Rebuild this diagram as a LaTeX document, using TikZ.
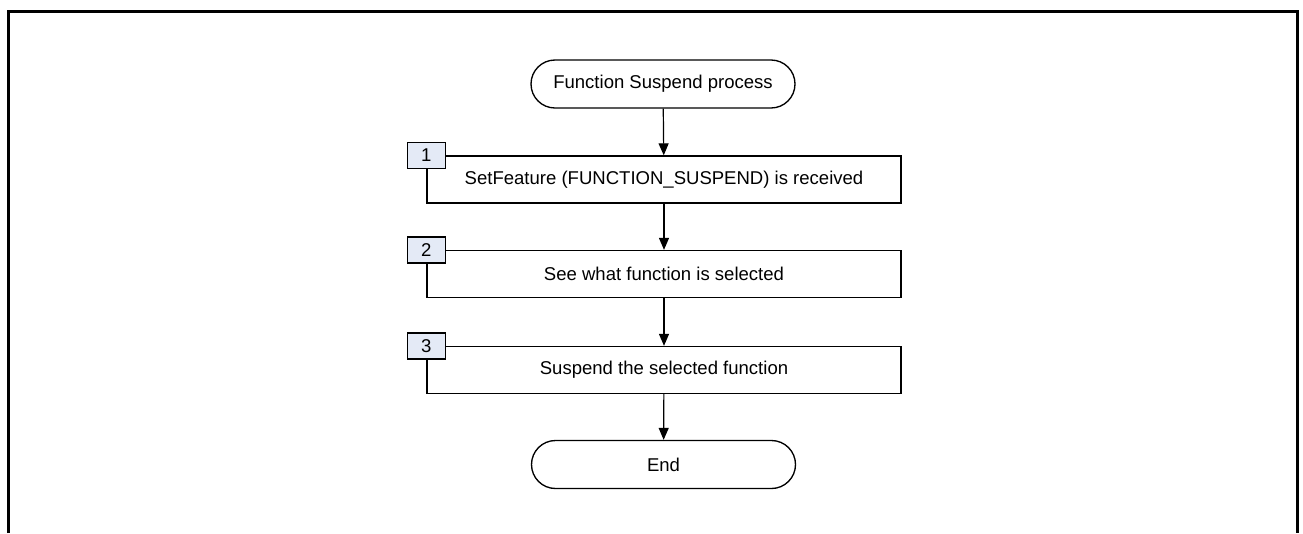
\documentclass[tikz,border=0pt]{standalone}
\usepackage{fontspec}
\setmainfont{Liberation Sans}
\usetikzlibrary{arrows.meta}
\definecolor{numfill}{RGB}{228,234,246}
\tikzset{
  term/.style={draw,line width=1pt,rounded corners=18pt,minimum width=198pt,minimum height=36pt,inner sep=0pt},
  procbox/.style={draw,line width=1pt,minimum width=355.5pt,minimum height=35.25pt,inner sep=0pt},
  numbox/.style={draw,line width=1pt,fill=numfill,minimum width=28.5pt,minimum height=19.5pt,inner sep=0pt},
  flow/.style={line width=0.9pt,-{Triangle[length=9pt,width=7.5pt]}}
}
\begin{document}
\begin{tikzpicture}[x=0.75pt,y=-0.75pt,font=\fontsize{13.9}{16}\selectfont]
  \useasboundingbox (0,0) rectangle (1303,533);
  % outer frame, open at the bottom
  \draw[line width=2.25pt] (8,533) -- (8,11) -- (1297,11) -- (1297,533);
  \node[term] (start) at (663,84) {Function Suspend process};
  \node[procbox] (p1) at (664,179.5) {SetFeature (FUNCTION\_SUSPEND) is received};
  \node[procbox] (p2) at (664,274) {See what function is selected};
  \node[procbox] (p3) at (664,370) {Suspend the selected function};
  \node[term] (end) at (663.5,464.5) {End};
  \node[numbox] (n1) at (p1.north west) {1};
  \node[numbox] (n2) at (p2.north west) {2};
  \node[numbox] (n3) at (p3.north west) {3};
  \draw[flow] (start) -- (p1);
  \draw[flow] (p1) -- (p2);
  \draw[flow] (p2) -- (p3);
  \draw[flow] (p3) -- (end);
\end{tikzpicture}
\end{document}
